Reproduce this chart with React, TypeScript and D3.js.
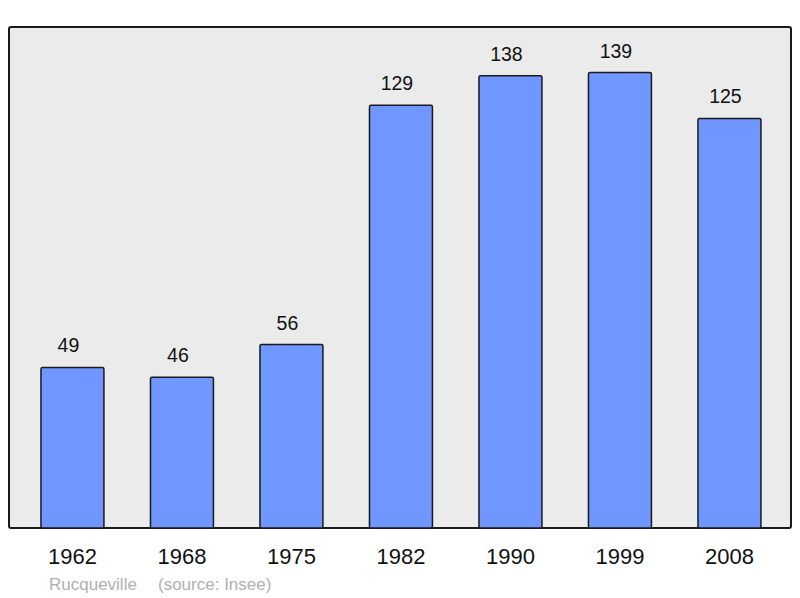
import React from 'react';
import * as d3 from 'd3';

const years = ['1962', '1968', '1975', '1982', '1990', '1999', '2008'];
const population = [49, 46, 56, 129, 138, 139, 125];
const caption = ['Rucqueville', '(source: Insee)'];

const W = 800;
const H = 598;
const frame = { left: 9, top: 27, right: 791, bottom: 528 };

export default function App() {
  const x = d3
    .scaleBand()
    .domain(years)
    .range([17.7, 784.2])
    .paddingInner(0.425)
    .paddingOuter(0.2125);

  const y = d3
    .scaleLinear()
    .domain([0, d3.max(population) * 1.1])
    .range([frame.bottom, frame.top]);

  const font = 'Liberation Sans, Arial, sans-serif';

  return (
    <svg
      width={W}
      height={H}
      style={{ position: 'absolute', left: 0, top: 0, background: '#fff' }}
    >
      <rect
        x={frame.left}
        y={frame.top}
        width={frame.right - frame.left}
        height={frame.bottom - frame.top}
        rx={2}
        fill="#ebebeb"
        stroke="#1a1a1a"
        strokeWidth={2}
      />
      {years.map((yr, i) => (
        <g key={yr}>
          <rect
            x={x(yr)}
            y={y(population[i])}
            width={x.bandwidth()}
            height={y(0) - y(population[i])}
            rx={1.5}
            fill="#7097ff"
            stroke="#1a1a1a"
            strokeWidth={1.5}
          />
          <text
            x={x(yr) + x.bandwidth() / 2 - 4}
            y={y(population[i]) - 15}
            textAnchor="middle"
            fontFamily={font}
            fontSize={19.5}
            fill="#111"
          >
            {population[i]}
          </text>
          <text
            x={x(yr) + x.bandwidth() / 2}
            y={564}
            textAnchor="middle"
            fontFamily={font}
            fontSize={22}
            fill="#111"
          >
            {yr}
          </text>
        </g>
      ))}
      <text x={49} y={590} fontFamily={font} fontSize={17} fill="#b0b0b0">
        {caption[0]}
      </text>
      <text x={158} y={590} fontFamily={font} fontSize={17} fill="#b0b0b0">
        {caption[1]}
      </text>
    </svg>
  );
}
